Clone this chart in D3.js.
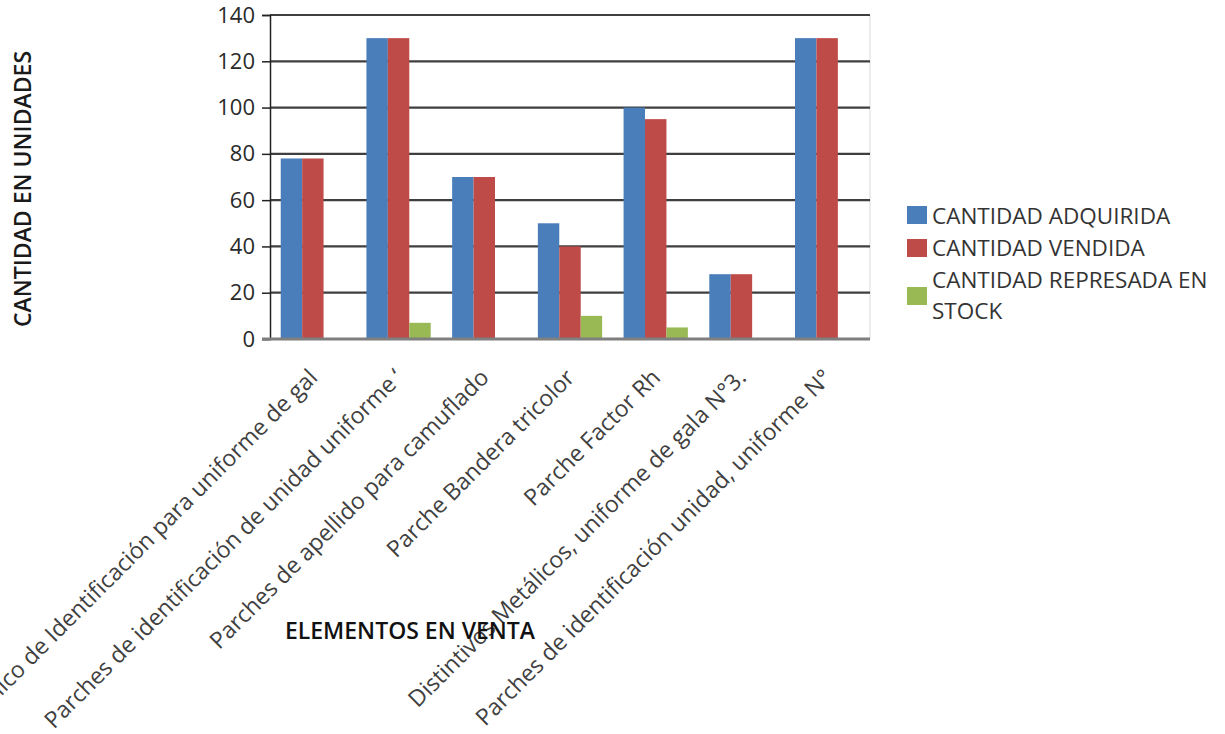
<!DOCTYPE html>
<html><head><meta charset="utf-8">
<script src="https://cdn.jsdelivr.net/npm/d3@7"></script>
<style>
html,body{margin:0;padding:0;background:#fff;}
svg{display:block;font-family:"Open Sans",sans-serif;}
</style></head>
<body>
<svg id="chart" width="1225" height="734"></svg>
<script>
const categories = [
  "Distintivo Metálico de Identificación para uniforme de gal",
  "Parches de identificación de unidad uniforme ‘",
  "Parches de apellido para camuflado",
  "Parche Bandera tricolor",
  "Parche Factor Rh",
  "Distintivos Metálicos, uniforme de gala N°3.",
  "Parches de identificación unidad, uniforme N°"
];
const seriesNames = ["CANTIDAD ADQUIRIDA", "CANTIDAD VENDIDA", "CANTIDAD REPRESADA EN STOCK"];
const adquirida = [78, 130, 70, 50, 100, 28, 130];
const vendida   = [78, 130, 70, 40, 95, 28, 130];
const represada = [0, 7, 0, 10, 5, 0, 0];
const yTicks = [0, 20, 40, 60, 80, 100, 120, 140];
const colors = ["#4A7EBB", "#BE4B48", "#98B954"];
const yTitle = "CANTIDAD EN UNIDADES";
const xTitle = "ELEMENTOS EN VENTA";

const seriesValues = [adquirida, vendida, represada];
const svg = d3.select("#chart");
const L = 270, R = 870, T = 15, B = 339;

const x0 = d3.scaleBand().domain(d3.range(categories.length)).range([L, R]).padding(0);
const x1 = d3.scaleBand().domain(d3.range(seriesNames.length)).range([0, x0.bandwidth()]).paddingInner(0).paddingOuter(0.5);
const y = d3.scaleLinear().domain([0, 140]).range([B, T]);

// right border faint
svg.append("line").attr("x1", R).attr("x2", R).attr("y1", T).attr("y2", B)
  .attr("stroke", "#d9d9d9").attr("stroke-width", 1);

// gridlines
svg.append("g").selectAll("line").data(yTicks.filter(d => d > 0)).join("line")
  .attr("x1", L).attr("x2", R)
  .attr("y1", d => y(d)).attr("y2", d => y(d))
  .attr("stroke", "#3f3f3f").attr("stroke-width", 2.2);

// bars
const groups = svg.append("g").selectAll("g").data(seriesValues).join("g")
  .attr("fill", (d, i) => colors[i]);
groups.each(function(vals, si) {
  d3.select(this).selectAll("rect").data(vals).join("rect")
    .attr("x", (d, ci) => x0(ci) + x1(si))
    .attr("width", x1.bandwidth())
    .attr("y", d => y(d))
    .attr("height", d => B - y(d));
});

// y axis
const yAxis = d3.axisLeft(y).tickValues(yTicks).tickSize(8).tickPadding(7);
const gy = svg.append("g").attr("transform", `translate(${L},0)`).call(yAxis);
gy.select(".domain").attr("stroke", "#222").attr("stroke-width", 1.5);
gy.selectAll(".tick line").attr("stroke", "#222").attr("stroke-width", 1.5);
gy.selectAll(".tick text").attr("font-size", 22).attr("fill", "#2a2a2a").attr("font-family", "Open Sans");

// baseline
svg.append("line").attr("x1", L - 8).attr("x2", R).attr("y1", B).attr("y2", B)
  .attr("stroke", "#7f7f7f").attr("stroke-width", 3);

// category labels
svg.append("g").selectAll("text").data(categories).join("text")
  .attr("transform", (d, i) => `translate(${x0(i) + x0.bandwidth() / 2 + 6},379) rotate(-45)`)
  .attr("text-anchor", "end")
  .attr("font-size", 23)
  .attr("fill", "#404040")
  .text(d => d);

// axis titles
svg.append("text").attr("x", 410).attr("y", 639).attr("text-anchor", "middle")
  .attr("font-size", 23).attr("font-weight", 600).attr("fill", "#111")
  .text(xTitle);
svg.append("text").attr("transform", "translate(31,189) rotate(-90)").attr("text-anchor", "middle")
  .attr("font-size", 23).attr("font-weight", 600).attr("fill", "#1a1a1a")
  .text(yTitle);

// legend
const lg = svg.append("g");
const rows = [
  {i: 0, sq: 206, lines: [{t: seriesNames[0], y: 224}]},
  {i: 1, sq: 239, lines: [{t: seriesNames[1], y: 256}]},
  {i: 2, sq: 287, lines: [{t: "CANTIDAD REPRESADA EN", y: 288}, {t: "STOCK", y: 319}]}
];
rows.forEach(r => {
  lg.append("rect").attr("x", 907).attr("y", r.sq).attr("width", 20).attr("height", 18).attr("fill", colors[r.i]);
  r.lines.forEach(l => lg.append("text").attr("x", 932).attr("y", l.y)
    .attr("font-size", 22.5).attr("fill", "#333").text(l.t));
});
</script>
</body></html>
